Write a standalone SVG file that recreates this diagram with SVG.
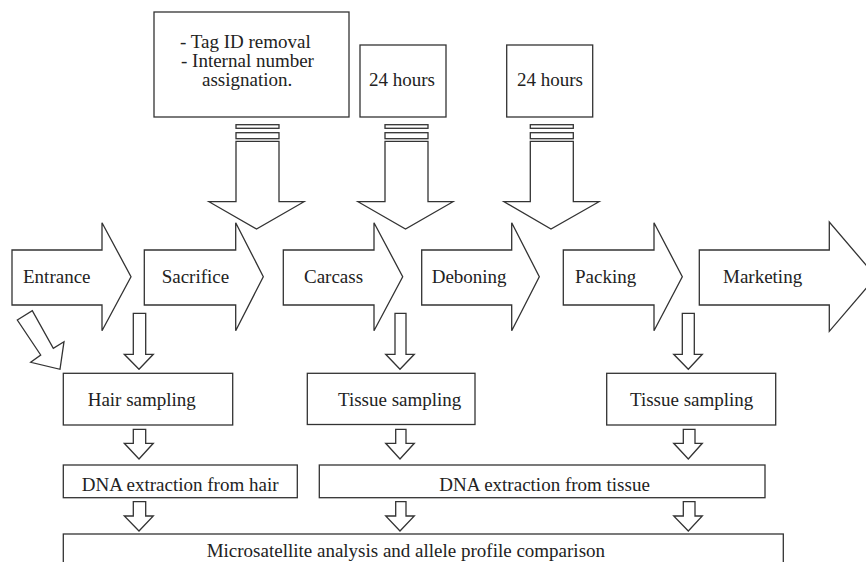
<svg xmlns="http://www.w3.org/2000/svg" width="866" height="562" viewBox="0 0 866 562">
<style>
.s{fill:#fff;stroke:#333;stroke-width:1.3;stroke-linejoin:miter}
.t{font-family:"Liberation Serif","Times New Roman",serif;font-size:19px;fill:#222}
</style>
<rect width="866" height="562" fill="#fff"/>
<g id="connectors">
<!-- big down arrows from top boxes -->
<rect class="s" x="236" y="124.7" width="43" height="3.6"/>
<rect class="s" x="236" y="132.7" width="43" height="6"/>
<polygon class="s" points="236,141.3 279,141.3 279,201.7 304,201.7 256.5,229 209,201.7 236,201.7"/>
<rect class="s" x="385" y="124.7" width="43" height="3.6"/>
<rect class="s" x="385" y="132.7" width="43" height="6"/>
<polygon class="s" points="385,141.3 428,141.3 428,201.7 453,201.7 405.5,229 358,201.7 385,201.7"/>
<rect class="s" x="530.3" y="124.7" width="43" height="3.6"/>
<rect class="s" x="530.3" y="132.7" width="43" height="6"/>
<polygon class="s" points="530.3,141.3 573.3,141.3 573.3,201.7 599,201.7 551,229 504,201.7 530.3,201.7"/>
<!-- diagonal arrow -->
<polygon class="s" points="17.3,320 32.3,310.7 53.3,348.3 64,341.7 60,369.3 30.7,362.3 40.7,355"/>
<!-- small down arrows row 1 -->
<polygon class="s" points="133.3,313.3 145.7,313.3 145.7,354.3 153.3,354.3 139,369.3 124.3,354.3 133.3,354.3"/>
<polygon class="s" points="395,313.3 406,313.3 406,354.3 414.3,354.3 400,369.3 385.7,354.3 395,354.3"/>
<polygon class="s" points="682.3,313.3 694.3,313.3 694.3,354.3 702.3,354.3 688.3,369.3 673.7,354.3 682.3,354.3"/>
<!-- row 2 -->
<polygon class="s" points="133.3,429.3 145.7,429.3 145.7,443.3 153.3,443.3 139,459 124.3,443.3 133.3,443.3"/>
<polygon class="s" points="395.7,429.3 406,429.3 406,443.3 414.3,443.3 400,459 385.7,443.3 395.7,443.3"/>
<polygon class="s" points="683.3,429.3 695,429.3 695,443.3 702.3,443.3 688.3,459 673.7,443.3 683.3,443.3"/>
<!-- row 3 -->
<polygon class="s" points="133.3,501.7 145.7,501.7 145.7,516 153.3,516 139,531 124.3,516 133.3,516"/>
<polygon class="s" points="395.7,501.7 406,501.7 406,516 414.3,516 400,531 385.7,516 395.7,516"/>
<polygon class="s" points="683.3,501.7 695,501.7 695,516 702.3,516 688.3,531 673.7,516 683.3,516"/>
</g>
<g id="box-tag">
<rect class="s" x="154" y="12" width="195" height="105"/>
<text class="t" x="180" y="48">- Tag ID removal</text>
<text class="t" x="181" y="67">- Internal number</text>
<text class="t" x="202" y="86">assignation.</text>
</g>
<g id="box-24h-1">
<rect class="s" x="360" y="45" width="86" height="72"/>
<text class="t" x="369" y="86">24 hours</text>
</g>
<g id="box-24h-2">
<rect class="s" x="506.7" y="45" width="86" height="72"/>
<text class="t" x="517" y="86">24 hours</text>
</g>
<g id="entrance">
<polygon class="s" points="12,250 102,250 102,222.7 131,276.7 102,330.7 102,305 12,305"/>
<text class="t" x="23" y="283">Entrance</text>
</g>
<g id="sacrifice">
<polygon class="s" points="144.3,250 235.7,250 235.7,222.7 263.3,276.7 235.7,330.7 235.7,305 144.3,305"/>
<text class="t" x="161.7" y="283">Sacrifice</text>
</g>
<g id="carcass">
<polygon class="s" points="283.3,250 374,250 374,222.7 402.7,276.7 374,330.7 374,305 283.3,305"/>
<text class="t" x="304" y="283">Carcass</text>
</g>
<g id="deboning">
<polygon class="s" points="421.7,250 511.7,250 511.7,222.7 539.3,276.7 511.7,330.7 511.7,305 421.7,305"/>
<text class="t" x="431.7" y="283">Deboning</text>
</g>
<g id="packing">
<polygon class="s" points="563.3,250 654,250 654,222.7 682.3,276.7 654,330.7 654,305 563.3,305"/>
<text class="t" x="575" y="283">Packing</text>
</g>
<g id="marketing">
<polygon class="s" points="699.3,250 829.3,250 829.3,222 876,276.7 829.3,331.3 829.3,305 699.3,305"/>
<text class="t" x="723" y="283">Marketing</text>
</g>
<g id="hair-sampling">
<rect class="s" x="63.3" y="373.3" width="169.4" height="51.7"/>
<text class="t" x="87.7" y="405.5">Hair sampling</text>
</g>
<g id="tissue-sampling-1">
<rect class="s" x="307.3" y="373.3" width="167.7" height="51.2"/>
<text class="t" x="338" y="405.5">Tissue sampling</text>
</g>
<g id="tissue-sampling-2">
<rect class="s" x="606.7" y="373.3" width="169" height="51.7"/>
<text class="t" x="630" y="405.5">Tissue sampling</text>
</g>
<g id="dna-hair">
<rect class="s" x="63.3" y="465" width="234" height="32.7"/>
<text class="t" x="81.7" y="491">DNA extraction from hair</text>
</g>
<g id="dna-tissue">
<rect class="s" x="319.3" y="465" width="445.7" height="32.7"/>
<text class="t" x="439.3" y="491">DNA extraction from tissue</text>
</g>
<g id="microsatellite">
<rect class="s" x="63.3" y="534" width="720" height="40"/>
<text class="t" x="206.7" y="557">Microsatellite analysis and allele profile comparison</text>
</g>
</svg>
